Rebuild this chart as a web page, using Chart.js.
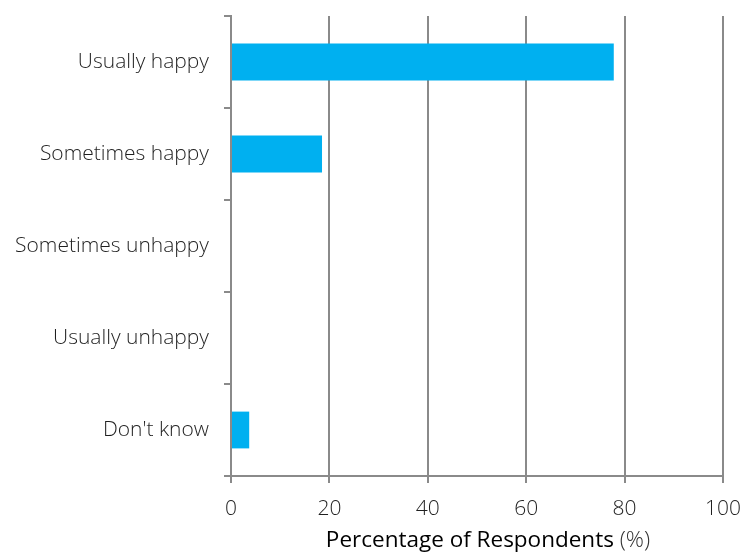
<!DOCTYPE html>
<html>
<head>
<meta charset="utf-8">
<script src="https://cdn.jsdelivr.net/npm/chart.js@4/dist/chart.umd.min.js"></script>
<style>
  html, body { margin: 0; padding: 0; background: #fff; }
  #wrap { width: 744px; height: 553px; }
</style>
</head>
<body>
<div id="wrap"><canvas id="c" width="744" height="553"></canvas></div>
<script>
// Survey responses: how happy respondents usually are
const categories = ['Usually happy', 'Sometimes happy', 'Sometimes unhappy', 'Usually unhappy', "Don't know"];
const percentages = [77.8, 18.5, 0, 0, 3.7];
const xTicks = [0, 20, 40, 60, 80, 100];

const FONT = '"Open Sans", Lato, sans-serif';
const GRID = '#8a8a8a';
const TEXT = '#1f1f1f';

// Axis title drawn in two weights: darker label plus a lighter unit
const axisTitle = {
  id: 'axisTitle',
  afterDraw(chart) {
    const ctx = chart.ctx;
    const main = 'Percentage of Respondents ';
    const unit = '(%)';
    const size = 22.5;
    ctx.save();
    ctx.textBaseline = 'alphabetic';
    ctx.font = '400 ' + size + 'px ' + FONT;
    const w1 = ctx.measureText(main).width;
    ctx.font = '300 ' + size + 'px ' + FONT;
    const w2 = ctx.measureText(unit).width;
    const cx = (chart.chartArea.left + chart.chartArea.right) / 2 + 11;
    const x0 = cx - (w1 + w2) / 2;
    ctx.fillStyle = '#000';
    ctx.font = '400 ' + size + 'px ' + FONT;
    ctx.fillText(main, x0, 547);
    ctx.fillStyle = '#333';
    ctx.font = '300 ' + size + 'px ' + FONT;
    ctx.fillText(unit, x0 + w1, 547);
    ctx.restore();
  }
};

new Chart(document.getElementById('c'), {
  type: 'bar',
  data: {
    labels: categories,
    datasets: [{
      data: percentages,
      backgroundColor: '#00b0f0',
      borderWidth: 0,
      barPercentage: 0.4,
      categoryPercentage: 1.0
    }]
  },
  plugins: [axisTitle],
  options: {
    indexAxis: 'y',
    responsive: false,
    animation: false,
    layout: { padding: { left: 0, right: 21, top: 16, bottom: 0 } },
    plugins: { legend: { display: false }, tooltip: { enabled: false } },
    scales: {
      x: {
        min: 0,
        max: 100,
        afterBuildTicks(scale) { scale.ticks = xTicks.map(v => ({ value: v })); },
        afterFit(scale) {
          scale.height = 553 - 476;
          scale.paddingLeft = 0;
          scale.paddingRight = 0;
        },
        grid: { color: GRID, lineWidth: 2, drawTicks: true, tickLength: 7, tickColor: GRID },
        border: { display: true, color: GRID, width: 2 },
        ticks: { color: TEXT, font: { family: FONT, size: 21, weight: '300' }, padding: 13, maxRotation: 0 }
      },
      y: {
        afterFit(scale) {
          scale.width = 231;
          scale.paddingTop = 0;
          scale.paddingBottom = 0;
        },
        grid: { display: true, drawOnChartArea: false, drawTicks: true, tickLength: 7, color: GRID, lineWidth: 2, offset: true },
        border: { display: true, color: GRID, width: 2 },
        ticks: { color: TEXT, font: { family: FONT, size: 21, weight: '300' }, padding: 15 }
      }
    }
  }
});
</script>
</body>
</html>
